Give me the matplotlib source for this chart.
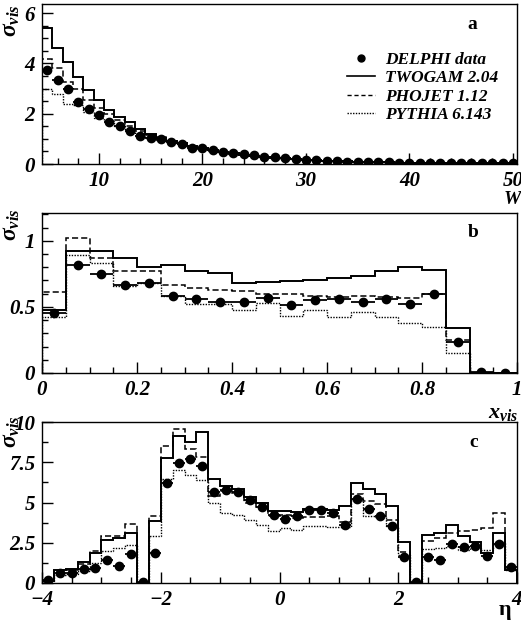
import numpy as np
import matplotlib
matplotlib.use('Agg')
import matplotlib.pyplot as plt
from matplotlib.lines import Line2D
from matplotlib.ticker import MultipleLocator

plt.rcParams['font.family'] = ['Liberation Serif', 'DejaVu Serif']
plt.rcParams['font.weight'] = 'bold'
plt.rcParams['font.style'] = 'italic'
plt.rcParams['mathtext.fontset'] = 'custom'
plt.rcParams['mathtext.it'] = 'Liberation Serif:bold:italic'
plt.rcParams['mathtext.rm'] = 'Liberation Serif:bold:italic'

# ---- panel a : W ----
w_edges = np.arange(4.5, 51.0, 1.0)
w_data = [3.72, 3.33, 2.97, 2.46, 2.2, 1.93, 1.66, 1.53, 1.3, 1.13, 1.04, 0.98, 0.86, 0.8,
          0.65, 0.64, 0.56, 0.46, 0.42, 0.4, 0.36, 0.28, 0.26, 0.24, 0.18, 0.16, 0.14, 0.11,
          0.1, 0.09, 0.08, 0.07, 0.065, 0.06, 0.055, 0.05, 0.045, 0.04, 0.04, 0.035, 0.03,
          0.03, 0.025, 0.025, 0.02, 0.02]
w_twogam = [5.4, 4.6, 4.06, 3.46, 2.93, 2.56, 2.16, 1.86, 1.66, 1.4, 1.2, 1.05, 0.92, 0.82,
            0.7, 0.62, 0.55, 0.48, 0.42, 0.37, 0.32, 0.28, 0.25, 0.22, 0.19, 0.17, 0.15, 0.13,
            0.11, 0.1, 0.09, 0.08, 0.07, 0.06, 0.055, 0.05, 0.045, 0.04, 0.035, 0.03, 0.03,
            0.025, 0.025, 0.02, 0.02, 0.015]
w_phojet = [4.16, 3.82, 3.26, 3.0, 2.53, 2.24, 2.0, 1.76, 1.53, 1.33, 1.16, 1.07, 0.92, 0.82,
            0.72, 0.63, 0.55, 0.48, 0.42, 0.37, 0.32, 0.28, 0.25, 0.22, 0.19, 0.17, 0.15, 0.13,
            0.11, 0.1, 0.09, 0.08, 0.07, 0.06, 0.055, 0.05, 0.045, 0.04, 0.035, 0.03, 0.03,
            0.025, 0.025, 0.02, 0.02, 0.015]
w_pythia = [3.0, 2.77, 2.37, 2.33, 2.06, 1.84, 1.7, 1.53, 1.33, 1.2, 1.05, 0.96, 0.86, 0.76,
            0.66, 0.6, 0.52, 0.46, 0.4, 0.35, 0.31, 0.27, 0.24, 0.21, 0.18, 0.16, 0.14, 0.12,
            0.11, 0.1, 0.09, 0.08, 0.07, 0.06, 0.055, 0.05, 0.045, 0.04, 0.035, 0.03, 0.03,
            0.025, 0.025, 0.02, 0.02, 0.015]

# ---- panel b : x_vis ----
x_edges = np.linspace(0, 1, 21)
x_data = [0.45, 0.82, 0.75, 0.667, 0.68, 0.58, 0.56, 0.54, 0.54, 0.566, 0.515, 0.553, 0.558,
          0.54, 0.558, 0.52, 0.6, 0.237, 0.005, 0.002]
x_twogam = [0.477, 0.92, 0.92, 0.87, 0.80, 0.82, 0.77, 0.76, 0.68, 0.69, 0.695, 0.70, 0.72,
            0.73, 0.77, 0.80, 0.78, 0.34, 0.0, 0.0]
x_phojet = [0.61, 1.02, 0.87, 0.77, 0.77, 0.665, 0.64, 0.63, 0.62, 0.60, 0.60, 0.58, 0.575,
            0.58, 0.575, 0.565, 0.60, 0.25, 0.0, 0.0]
x_pythia = [0.42, 0.89, 0.83, 0.66, 0.68, 0.58, 0.52, 0.52, 0.48, 0.53, 0.43, 0.48, 0.42,
            0.46, 0.42, 0.38, 0.35, 0.15, 0.0, 0.0]

# ---- panel c : eta ----
eta_edges = np.linspace(-4, 4, 41)
eta_data = [0.2, 0.6, 0.65, 0.85, 0.95, 1.44, 1.08, 1.79, 0.08, 1.85,
            6.23, 7.48, 7.73, 7.27, 5.65, 5.77, 5.65, 5.15, 4.73, 4.25,
            3.98, 4.15, 4.56, 4.56, 4.35, 3.63, 5.19, 4.6, 4.15, 3.52,
            1.6, 0.08, 1.6, 1.4, 2.44, 2.23, 2.31, 1.65, 2.44, 0.98]
eta_twogam = [0.1, 0.8, 0.85, 1.33, 1.85, 2.69, 2.79, 3.1, 0.0, 3.83,
              7.79, 9.15, 8.73, 9.4, 6.48, 6.0, 5.85, 5.35, 4.98, 4.46,
              4.5, 4.4, 4.6, 4.6, 4.56, 4.77, 6.19, 5.85, 5.5, 4.77,
              2.52, 0.0, 3.0, 3.1, 3.63, 2.9, 2.52, 1.85, 3.1, 0.81]
eta_phojet = [0.15, 0.77, 0.8, 1.2, 1.96, 2.9, 2.9, 3.69, 0.0, 4.19,
              8.48, 9.56, 8.35, 7.8, 5.4, 5.7, 5.56, 4.95, 4.73, 4.15,
              4.2, 4.04, 4.1, 4.1, 4.15, 3.8, 5.5, 5.08, 4.88, 3.94,
              1.9, 0.0, 2.58, 2.79, 3.1, 3.21, 3.31, 3.42, 4.35, 0.92]
eta_pythia = [0.1, 0.5, 0.55, 0.77, 1.23, 1.96, 2.17, 2.33, 0.0, 2.9,
              6.48, 7.0, 6.69, 6.4, 4.94, 4.35, 4.25, 3.94, 3.63, 3.21,
              3.42, 3.31, 3.56, 3.56, 3.48, 3.48, 5.19, 4.19, 4.1, 3.56,
              1.75, 0.0, 2.1, 2.17, 2.31, 2.06, 2.17, 2.02, 2.52, 0.81]

labels = ['DELPHI data', 'TWOGAM 2.04', 'PHOJET 1.12', 'PYTHIA 6.143']

W, H = 521, 630
fig = plt.figure(figsize=(W / 100, H / 100), dpi=100)


def px_ax(left, top, right, bottom):
    return fig.add_axes([left / W, 1 - bottom / H, (right - left) / W, (bottom - top) / H])


def draw(ax, edges, data, s, d, p):
    ax.stairs(s, edges, color='black', lw=1.4, ls='-')
    ax.stairs(d, edges, color='black', lw=1.1, ls=(0, (4, 2)))
    ax.stairs(p, edges, color='black', lw=1.0, ls=(0, (1, 1)))
    centers = 0.5 * (edges[:-1] + edges[1:])
    half = 0.5 * np.diff(edges)
    ax.errorbar(centers, data, xerr=half, fmt='o', color='black', ms=6,
                elinewidth=1.3, capsize=0)
    ax.tick_params(which='both', direction='in', labelsize=15, pad=5,
                   top=False, right=False)
    ax.tick_params(which='major', length=8, width=1)
    ax.tick_params(which='minor', length=4, width=1)
    for sp in ax.spines.values():
        sp.set_linewidth(1.0)


def style_ticks(ax):
    for lab in ax.get_xticklabels() + ax.get_yticklabels():
        lab.set_fontstyle('italic')
        lab.set_fontweight('bold')


# panel a
ax1 = px_ax(42, 4, 517, 164)
draw(ax1, w_edges, w_data, w_twogam, w_phojet, w_pythia)
ax1.set_xlim(4.5, 50.4)
ax1.set_ylim(0, 6.36)
ax1.set_xticks([10, 20, 30, 40, 50])
ax1.set_yticks([0, 2, 4, 6])
ax1.xaxis.set_minor_locator(MultipleLocator(2))
ax1.yaxis.set_minor_locator(MultipleLocator(0.5))
handles = [Line2D([], [], marker='o', ls='none', color='black', ms=5),
           Line2D([], [], color='black', lw=1.2, ls='-'),
           Line2D([], [], color='black', lw=1.0, ls=(0, (3, 2))),
           Line2D([], [], color='black', lw=1.0, ls=(0, (1, 1)))]
leg = ax1.legend(handles, labels, loc='upper left', bbox_to_anchor=(347 / W, 1 - 52 / H),
                 bbox_transform=fig.transFigure, frameon=False, fontsize=12.5,
                 handlelength=1.6, handletextpad=0.6, labelspacing=0.12,
                 borderpad=0, borderaxespad=0)
ax1.text(0.905, 0.87, 'a', transform=ax1.transAxes, fontsize=14, fontstyle='normal',
         fontweight='bold', ha='center', va='center')
style_ticks(ax1)

# panel b
ax2 = px_ax(42, 213, 517, 373)
draw(ax2, x_edges, x_data, x_twogam, x_phojet, x_pythia)
ax2.set_xlim(0, 1)
ax2.set_ylim(0, 1.21)
ax2.set_xticks([0, 0.2, 0.4, 0.6, 0.8, 1.0])
ax2.set_xticklabels(['0', '0.2', '0.4', '0.6', '0.8', '1'])
ax2.set_yticks([0, 0.5, 1.0])
ax2.set_yticklabels(['0', '0.5', '1'])
ax2.xaxis.set_minor_locator(MultipleLocator(0.05))
ax2.yaxis.set_minor_locator(MultipleLocator(0.1))
ax2.text(0.908, 0.88, 'b', transform=ax2.transAxes, fontsize=14, fontstyle='normal',
         fontweight='bold', ha='center', va='center')
style_ticks(ax2)

# panel c
ax3 = px_ax(42, 422, 517, 583)
draw(ax3, eta_edges, eta_data, eta_twogam, eta_phojet, eta_pythia)
ax3.set_xlim(-4, 4)
ax3.set_ylim(0, 10)
ax3.set_xticks([-4, -2, 0, 2, 4])
ax3.set_yticks([0, 2.5, 5, 7.5, 10])
ax3.set_yticklabels(['0', '2.5', '5', '7.5', '10'])
ax3.xaxis.set_minor_locator(MultipleLocator(0.5))
ax3.yaxis.set_minor_locator(MultipleLocator(1.25))
ax3.text(0.908, 0.87, 'c', transform=ax3.transAxes, fontsize=14, fontstyle='normal',
         fontweight='bold', ha='center', va='center')
style_ticks(ax3)

# axis titles
for yc in (21, 225, 432):
    fig.text(12 / W, 1 - yc / H, r'$\sigma_{vis}$', rotation=90, fontsize=17,
             ha='center', va='center')
fig.text(512 / W, 1 - 199 / H, 'W', fontsize=14, ha='center', va='center')
fig.text(503 / W, 1 - 413 / H, r'$x_{vis}$', fontsize=16, ha='center', va='center')
fig.text(505 / W, 1 - 610 / H, 'η', fontsize=16, fontstyle='normal', ha='center',
         va='center')

fig.savefig('out.png', dpi=100)
